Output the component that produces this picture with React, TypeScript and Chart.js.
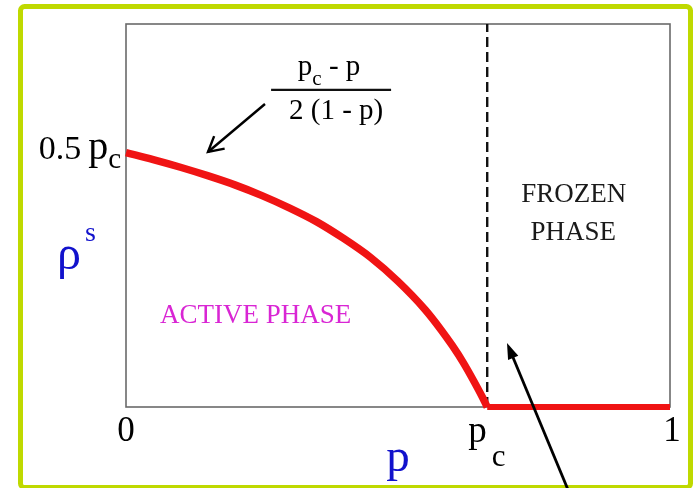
import React, { useEffect, useRef } from 'react';
import { Chart, registerables } from 'chart.js';

Chart.register(...registerables);

// ---- data ----
const PC = 0.664; // critical point p_c
const P_ACTIVE = [0, 0.05, 0.1, 0.15, 0.2, 0.25, 0.3, 0.35, 0.4, 0.45, 0.5, 0.55, 0.58, 0.6, 0.62, 0.64, 0.655, 0.664];
const RHO_ACTIVE = [0.332, 0.323, 0.313, 0.302, 0.29, 0.276, 0.26, 0.242, 0.22, 0.195, 0.164, 0.127, 0.1, 0.08, 0.058, 0.033, 0.013, 0];
const P_FROZEN = [0.664, 1];
const RHO_FROZEN = [0, 0];
const X_TICKS = [0, PC, 1];
const X_TICK_MAIN = ['0', 'p', '1'];
const X_TICK_SUB = ['', 'c', ''];
const Y_TICK = 0.332; // 0.5 p_c
const Y_MAX = 0.5;

const SERIF = '"Liberation Serif", "Times New Roman", serif';

type Run = { t: string; size: number; dy?: number; dx?: number };

function runsWidth(ctx: CanvasRenderingContext2D, runs: Run[]) {
  let w = 0;
  for (const r of runs) {
    ctx.font = `${r.size}px ${SERIF}`;
    w += ctx.measureText(r.t).width + (r.dx || 0);
  }
  return w;
}

function drawRuns(
  ctx: CanvasRenderingContext2D,
  runs: Run[],
  x: number,
  y: number,
  align: 'left' | 'center' | 'right',
  color: string
) {
  ctx.save();
  ctx.fillStyle = color;
  ctx.textBaseline = 'alphabetic';
  ctx.textAlign = 'left';
  const w = runsWidth(ctx, runs);
  let cx = align === 'left' ? x : align === 'center' ? x - w / 2 : x - w;
  for (const r of runs) {
    ctx.font = `${r.size}px ${SERIF}`;
    cx += r.dx || 0;
    ctx.fillText(r.t, cx, y + (r.dy || 0));
    cx += ctx.measureText(r.t).width;
  }
  ctx.restore();
}

function arrow(
  ctx: CanvasRenderingContext2D,
  x1: number,
  y1: number,
  x2: number,
  y2: number,
  width: number,
  filled: boolean
) {
  const ang = Math.atan2(y2 - y1, x2 - x1);
  const len = 17;
  const spread = filled ? 0.33 : 0.5;
  ctx.save();
  ctx.strokeStyle = '#000';
  ctx.fillStyle = '#000';
  ctx.lineWidth = width;
  ctx.lineCap = 'butt';
  ctx.beginPath();
  const endX = filled ? x2 - Math.cos(ang) * (len - 4) : x2;
  const endY = filled ? y2 - Math.sin(ang) * (len - 4) : y2;
  ctx.moveTo(x1, y1);
  ctx.lineTo(endX, endY);
  ctx.stroke();
  const ax = x2 - Math.cos(ang - spread) * len;
  const ay = y2 - Math.sin(ang - spread) * len;
  const bx = x2 - Math.cos(ang + spread) * len;
  const by = y2 - Math.sin(ang + spread) * len;
  ctx.beginPath();
  if (filled) {
    ctx.moveTo(x2, y2);
    ctx.lineTo(ax, ay);
    ctx.lineTo(bx, by);
    ctx.closePath();
    ctx.fill();
  } else {
    ctx.lineJoin = 'miter';
    ctx.moveTo(ax, ay);
    ctx.lineTo(x2, y2);
    ctx.lineTo(bx, by);
    ctx.stroke();
  }
  ctx.restore();
}

const framePlugin = {
  id: 'frame',
  beforeDatasetsDraw(chart: any) {
    const { ctx, chartArea: a } = chart;
    ctx.save();
    ctx.strokeStyle = '#6a6a6a';
    ctx.lineWidth = 1.6;
    ctx.strokeRect(a.left, a.top, a.right - a.left, a.bottom - a.top);
    ctx.restore();
  },
};

const annotationPlugin = {
  id: 'annotations',
  afterDraw(chart: any) {
    const { ctx, chartArea: a, scales } = chart;
    const xs = scales.x;
    const ys = scales.y;
    const black = '#000';

    // y tick label: 0.5 p_c
    const yt = ys.getPixelForValue(Y_TICK);
    drawRuns(
      ctx,
      [
        { t: '0.5', size: 34 },
        { t: 'p', size: 40, dx: 7 },
        { t: 'c', size: 29, dy: 9 },
      ],
      a.left - 5,
      yt + 6,
      'right',
      black
    );

    // x tick labels
    X_TICKS.forEach((v, i) => {
      const px = xs.getPixelForValue(v);
      if (X_TICK_SUB[i]) {
        drawRuns(
          ctx,
          [
            { t: X_TICK_MAIN[i], size: 37 },
            { t: X_TICK_SUB[i], size: 31, dy: 24, dx: 5 },
          ],
          px - 19,
          a.bottom + 35,
          'left',
          black
        );
      } else {
        drawRuns(ctx, [{ t: X_TICK_MAIN[i], size: 35 }], px + (i === X_TICKS.length - 1 ? 2 : 0), a.bottom + 34, 'center', black);
      }
    });

    // axis titles
    const blue = '#1212cc';
    drawRuns(ctx, [{ t: 'p', size: 47 }], xs.getPixelForValue(0.5), a.bottom + 64, 'center', blue);
    drawRuns(
      ctx,
      [
        { t: 'ρ', size: 48 },
        { t: 's', size: 28, dy: -28, dx: 4 },
      ],
      a.left - 69,
      ys.getPixelForValue(0.18),
      'left',
      blue
    );

    // phase labels
    drawRuns(ctx, [{ t: 'ACTIVE PHASE', size: 27 }], xs.getPixelForValue(0.0625), ys.getPixelForValue(0.11), 'left', '#d926d4');
    drawRuns(ctx, [{ t: 'FROZEN', size: 27 }], xs.getPixelForValue(0.823), ys.getPixelForValue(0.268), 'center', '#1a1a1a');
    drawRuns(ctx, [{ t: 'PHASE', size: 27 }], xs.getPixelForValue(0.822), ys.getPixelForValue(0.218), 'center', '#1a1a1a');

    // formula (p_c - p) / (2 (1 - p))
    const fx = xs.getPixelForValue(0.377);
    const fy = ys.getPixelForValue(0.414);
    ctx.save();
    ctx.strokeStyle = '#111';
    ctx.lineWidth = 2.2;
    ctx.beginPath();
    ctx.moveTo(fx - 60, fy);
    ctx.lineTo(fx + 60, fy);
    ctx.stroke();
    ctx.restore();
    drawRuns(
      ctx,
      [
        { t: 'p', size: 29 },
        { t: 'c', size: 21, dy: 10 },
        { t: ' - p', size: 29 },
      ],
      fx - 2,
      fy - 15,
      'center',
      black
    );
    drawRuns(ctx, [{ t: '2 (1 - p)', size: 29 }], fx + 5, fy + 29, 'center', black);

    // arrow to the curve
    arrow(
      ctx,
      xs.getPixelForValue(0.2555),
      ys.getPixelForValue(0.3956),
      xs.getPixelForValue(0.1507),
      ys.getPixelForValue(0.3329),
      2.4,
      false
    );

    // outer green frame
    ctx.save();
    ctx.strokeStyle = '#bfd900';
    ctx.lineWidth = 5;
    ctx.beginPath();
    (ctx as any).roundRect(20.5, 6.5, 670, 481, 4);
    ctx.stroke();
    ctx.restore();

    // arrow pointing at frozen region (crosses the frame)
    arrow(
      ctx,
      xs.getPixelForValue(0.8125),
      ys.getPixelForValue(-0.108),
      xs.getPixelForValue(0.7004),
      ys.getPixelForValue(0.0836),
      2.8,
      true
    );
  },
};

export default function App() {
  const ref = useRef<HTMLCanvasElement | null>(null);

  useEffect(() => {
    if (!ref.current) return;
    const chart = new Chart(ref.current, {
      type: 'line',
      data: {
        datasets: [
          {
            label: 'p_c line',
            data: [
              { x: PC, y: 0 },
              { x: PC, y: Y_MAX },
            ],
            borderColor: '#111',
            borderWidth: 2.4,
            borderDash: [10, 5],
            pointRadius: 0,
            clip: false as any,
            order: 3,
          },
          {
            label: 'active',
            data: P_ACTIVE.map((p, i) => ({ x: p, y: RHO_ACTIVE[i] })),
            borderColor: '#f01414',
            borderWidth: 7.5,
            pointRadius: 0,
            cubicInterpolationMode: 'monotone',
            borderCapStyle: 'butt',
            borderJoinStyle: 'round',
            clip: false as any,
            order: 1,
          },
          {
            label: 'frozen',
            data: P_FROZEN.map((p, i) => ({ x: p, y: RHO_FROZEN[i] })),
            borderColor: '#f01414',
            borderWidth: 6,
            pointRadius: 0,
            borderCapStyle: 'butt',
            clip: false as any,
            order: 2,
          },
        ],
      },
      options: {
        animation: false,
        responsive: false,
        devicePixelRatio: 1,
        layout: { padding: { left: 126, right: 28, top: 24, bottom: 81 } },
        plugins: { legend: { display: false }, tooltip: { enabled: false } },
        events: [],
        scales: {
          x: { type: 'linear', min: 0, max: 1, display: false },
          y: { type: 'linear', min: 0, max: Y_MAX, display: false },
        },
      },
      plugins: [framePlugin, annotationPlugin],
    });
    return () => chart.destroy();
  }, []);

  return (
    <div style={{ position: 'fixed', left: 0, top: 0, width: 698, height: 488, background: '#fff' }}>
      <canvas ref={ref} width={698} height={488} style={{ display: 'block' }} />
    </div>
  );
}
